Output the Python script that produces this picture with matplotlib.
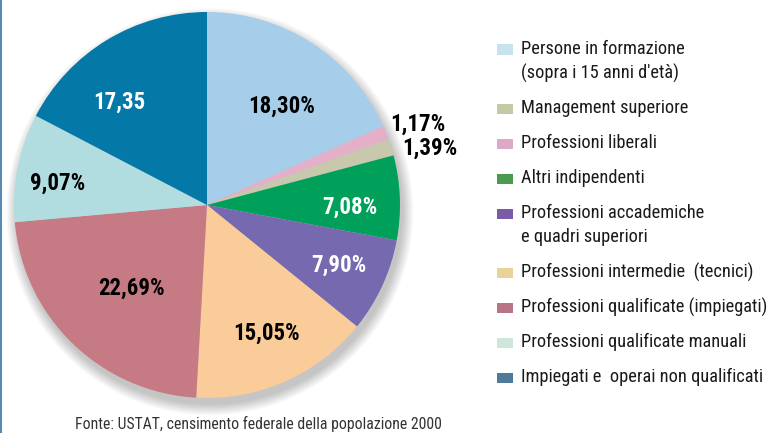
import numpy as np
import matplotlib
matplotlib.use('Agg')
import matplotlib.pyplot as plt
from matplotlib.patches import Rectangle, Circle
from matplotlib import font_manager

# dati (in senso orario dalle ore 12)
valori = [18.30, 1.17, 1.39, 7.08, 7.90, 15.05, 22.69, 9.07, 17.35]
etichette = ['18,30%', '1,17%', '1,39%', '7,08%', '7,90%', '15,05%', '22,69%', '9,07%', '17,35']
colori_torta = ['#a6cdea', '#e4afc8', '#c8c9ac', '#00a05a', '#7669b0',
                '#facc9a', '#c67b84', '#b1dde0', '#0479a8']
colori_testo = ['black', 'black', 'black', 'white', 'white',
                'black', 'black', 'black', 'white']

# legenda
voci = ['Persone in formazione\n(sopra i 15 anni d\'età)', 'Management superiore',
        'Professioni liberali', 'Altri indipendenti',
        'Professioni accademiche\ne quadri superiori', 'Professioni intermedie  (tecnici)',
        'Professioni qualificate (impiegati)', 'Professioni qualificate manuali',
        'Impiegati e  operai non qualificati']
colori_legenda = ['#c7e4ee', '#c6c9a8', '#dda9c6', '#4a9a50', '#7a5ba8',
                  '#e8d29a', '#b87585', '#cfe6da', '#4f7a99']

fonte = 'Fonte: USTAT, censimento federale della popolazione 2000'

# font stretto se disponibile
nomi = {f.name for f in font_manager.fontManager.ttflist}
stretto = None
for n in ['Liberation Sans Narrow', 'DejaVu Sans Condensed', 'Roboto Condensed',
          'Open Sans Condensed']:
    if n in nomi:
        stretto = n
        break
if stretto:
    plt.rcParams['font.family'] = [stretto, 'DejaVu Sans']
    fs_leg, fs_lab, fs_fonte = 13.2, 16.5, 11.3
else:
    plt.rcParams['font.family'] = ['DejaVu Sans']
    fs_leg, fs_lab, fs_fonte = 10.5, 13, 10

W, H = 773, 434
fig = plt.figure(figsize=(W / 100, H / 100), dpi=100)

# torta
cx, cy, r = 207, 205, 193
ax = fig.add_axes([(cx - r) / W, (H - cy - r) / H, 2 * r / W, 2 * r / H])

# ombra morbida
for k in range(10):
    ax.add_patch(Circle((0.015, -0.035), 1.0 + 0.006 * k, color='black',
                        alpha=0.025, lw=0, zorder=0, clip_on=False))

wedges, _ = ax.pie(valori, colors=colori_torta, startangle=90, counterclock=False,
                   radius=1.0, wedgeprops=dict(linewidth=0))
for w in wedges:
    w.set_zorder(2)
ax.set_xlim(-1, 1)
ax.set_ylim(-1, 1)
ax.set_aspect('equal')
ax.axis('off')

# posizione etichette: raggio e correzione angolo
dist = [0.64, 1.17, 1.19, 0.74, 0.75, 0.73, 0.58, 0.78, 0.70]
dang = [-4, -1, -3, -3, 0, 1, 2, 3, 9]
for w, lab, c, d, da in zip(wedges, etichette, colori_testo, dist, dang):
    a = np.deg2rad((w.theta1 + w.theta2) / 2 + da)
    ax.text(d * np.cos(a), d * np.sin(a), lab, ha='center', va='center',
            fontsize=fs_lab, fontweight='bold', color=c, zorder=5, clip_on=False)

# legenda disegnata a mano (quadratino allineato alla prima riga)
y = 49
for voce, col in zip(voci, colori_legenda):
    righe = voce.split('\n')
    fig.add_artist(Rectangle((497 / W, 1 - (y + 5.5) / H), 16 / W, 10 / H,
                             transform=fig.transFigure, facecolor=col, edgecolor='none'))
    for i, riga in enumerate(righe):
        fig.text(521 / W, 1 - (y + i * 24) / H, riga, fontsize=fs_leg,
                 color='#1a1a1a', va='center', ha='left')
    y += (len(righe) - 1) * 24 + 35

fig.text(75 / W, 1 - 424 / H, fonte, fontsize=fs_fonte, color='#333333', va='center')

# bordo sinistro
fig.add_artist(plt.Line2D([1 / W, 1 / W], [2 / H, 1], color='#5a8ab0', lw=1.5))

fig.savefig('out.png', dpi=100)
